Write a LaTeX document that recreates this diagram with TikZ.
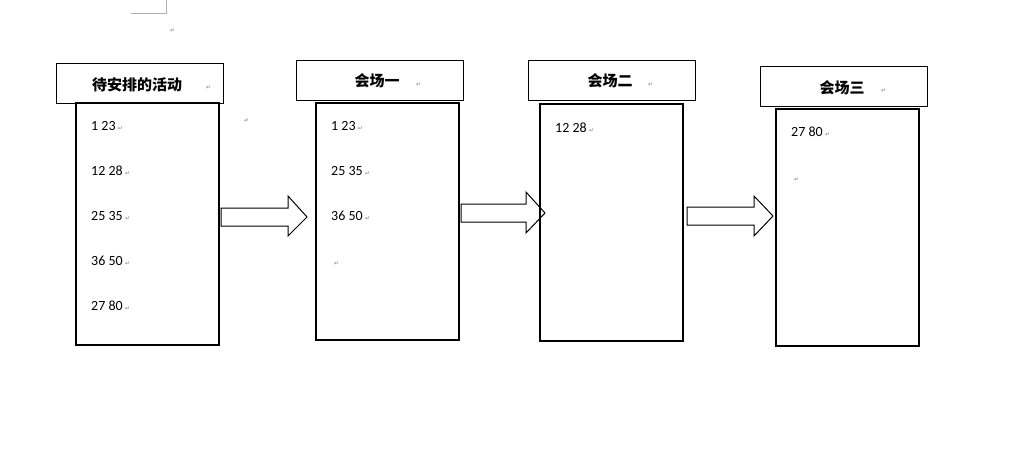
\documentclass[tikz,border=0pt]{standalone}
\usepackage{fontspec}
\setmainfont{Carlito}
\newfontfamily\cjk{Noto Sans CJK SC}
\newfontfamily\symf{DejaVu Sans}
\tikzset{
  box/.style={draw,line width=1.2pt},
  ttl/.style={font=\cjk\fontsize{15}{15}\selectfont\bfseries,anchor=center},
  num/.style={font=\fontsize{14}{14}\selectfont,anchor=west,inner sep=0},
  ret/.style={font=\symf\fontsize{6}{6}\selectfont,text=gray,inner sep=0,anchor=west},
  barrow/.style={draw,line width=1pt,fill=white}
}
\newcommand{\pmark}{{\symf\fontsize{6}{6}\selectfont\color{gray}↵}}
\begin{document}
\begin{tikzpicture}[x=1pt,y=-1pt]
\useasboundingbox (0,0) rectangle (1036,453);
\draw[gray!60] (131,13) -- (166,13) -- (166,0);
\node[ret] (r0) at (170,31) {↵};
\draw[box,line width=0.8pt] (56,63) rectangle (223,103);
\draw[box,line width=0.8pt] (296,60) rectangle (463,100);
\draw[box,line width=0.8pt] (528,60) rectangle (695,100);
\draw[box,line width=0.8pt] (760,66) rectangle (927,106);
\node[ttl] (t1) at (137,85) {待安排的活动};
\node[ret] at (206,88) {↵};
\node[ttl] (t2) at (377,81) {会场一};
\node[ret] at (416,85) {↵};
\node[ttl] (t3) at (610,81) {会场二};
\node[ret] at (648,85) {↵};
\node[ttl] (t4) at (842,88) {会场三};
\node[ret] at (881,91) {↵};
\draw[box] (76,103) rectangle (219,345);
\draw[box] (316,103) rectangle (459,340);
\draw[box] (540,104) rectangle (683,341);
\draw[box] (776,109) rectangle (919,346);
\foreach \t/\y in {1 23/126,12 28/171,25 35/216,36 50/261,27 80/306}{
  \node[num] at (91,\y) {\t\,\pmark};}
\node[ret] at (244,121) {↵};
\foreach \t/\y in {1 23/126,25 35/171,36 50/216}{
  \node[num] at (331,\y) {\t\,\pmark};}
\node[ret] at (334,264) {↵};
\node[num] at (555,128) {12 28\,\pmark};
\node[num] at (791,132) {27 80\,\pmark};
\node[ret] at (794,180) {↵};
\draw[barrow] (221,208) -- (288,208) -- (288,196) -- (307,217) -- (288,236) -- (288,226) -- (221,226) -- cycle;
\draw[barrow] (461,204) -- (526,204) -- (526,192) -- (545,213) -- (526,233) -- (526,222) -- (461,222) -- cycle;
\draw[box] (540,104) -- (540,341);
\draw[barrow] (687,207) -- (754,207) -- (754,196) -- (773,216) -- (754,236) -- (754,225) -- (687,225) -- cycle;
\end{tikzpicture}
\end{document}
